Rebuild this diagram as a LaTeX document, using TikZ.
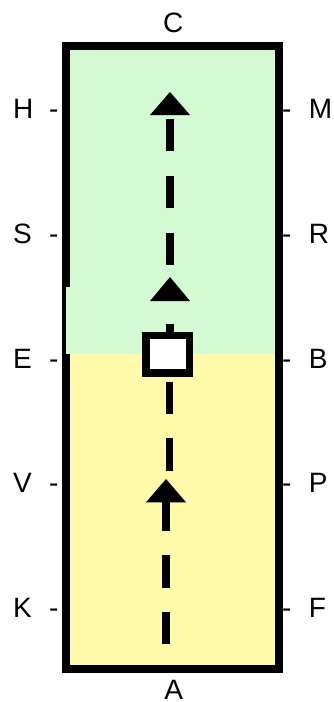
\documentclass[tikz,border=0pt]{standalone}
\usepackage{fontspec}
\setmainfont{Liberation Sans}
\definecolor{greenbg}{RGB}{211,250,211}
\definecolor{yellowbg}{RGB}{255,251,170}
\begin{document}
\begin{tikzpicture}[x=1pt,y=-1pt,
  lbl/.style={inner sep=0pt, font=\fontsize{28}{30}\selectfont},
  dashline/.style={line width=7.3pt, dash pattern=on 32.3pt off 24.4pt},
  headfill/.style={fill=black}]
\useasboundingbox (0,0) rectangle (334,702);
% backgrounds
\fill[greenbg] (70,50) rectangle (275,354);
\fill[yellowbg] (70,354) rectangle (275,666);
\draw[line width=8pt] (66,46) rectangle (279,669);
\fill[greenbg] (66,287) rectangle (275,354);
% coordinates
\coordinate (a1t) at (170,92);
\coordinate (a1b) at (170,115);
\coordinate (a2t) at (170,277);
\coordinate (a2b) at (170,301);
\coordinate (m) at (169.7,479);
\coordinate (a3t) at (166,479);
\coordinate (a3b) at (166,502.3);
\coordinate (bot) at (166,644.3);
% square
\node[draw, line width=7.5pt, fill=white, minimum width=43.5pt, minimum height=37.5pt, inner sep=0pt] (sq) at (167.8,354.2) {};
% dashed lines
\draw[line width=7.3pt, dash pattern=on 8pt off 40pt] (sq.north -| a2b) -- (a2b);
\draw[dashline, dash phase=44.5pt] (a2t) -- (a1b);
\draw[dashline, dash phase=51.7pt] (sq.south -| m) -- (m);
\draw[dashline] (bot) -- (a3b);
% arrowheads
\fill[headfill] (a1t) -- ([xshift=-20pt]a1b) -- ([xshift=20pt]a1b) -- cycle;
\fill[headfill] (a2t) -- ([xshift=-20pt]a2b) -- ([xshift=20pt]a2b) -- cycle;
\fill[headfill] (a3t) -- ([xshift=-20pt]a3b) -- ([xshift=20pt]a3b) -- cycle;
% labels
\node[lbl, anchor=base] (lC) at (173.3,32) {C};
\node[lbl, anchor=base] (lA) at (173.8,699) {A};
\foreach \l/\r/\y in {H/M/118, S/R/243, E/B/368, V/P/492.5, K/F/617}{
  \node[lbl, anchor=base west] (l\l) at (12.8,\y) {\l};
  \node[lbl, anchor=base west] (dl\l) at (48.8,\y) {-};
  \node[lbl, anchor=base west] (dr\r) at (282,\y) {-};
  \node[lbl, anchor=base west] (l\r) at (308.6,\y) {\r};
}
\end{tikzpicture}
\end{document}
